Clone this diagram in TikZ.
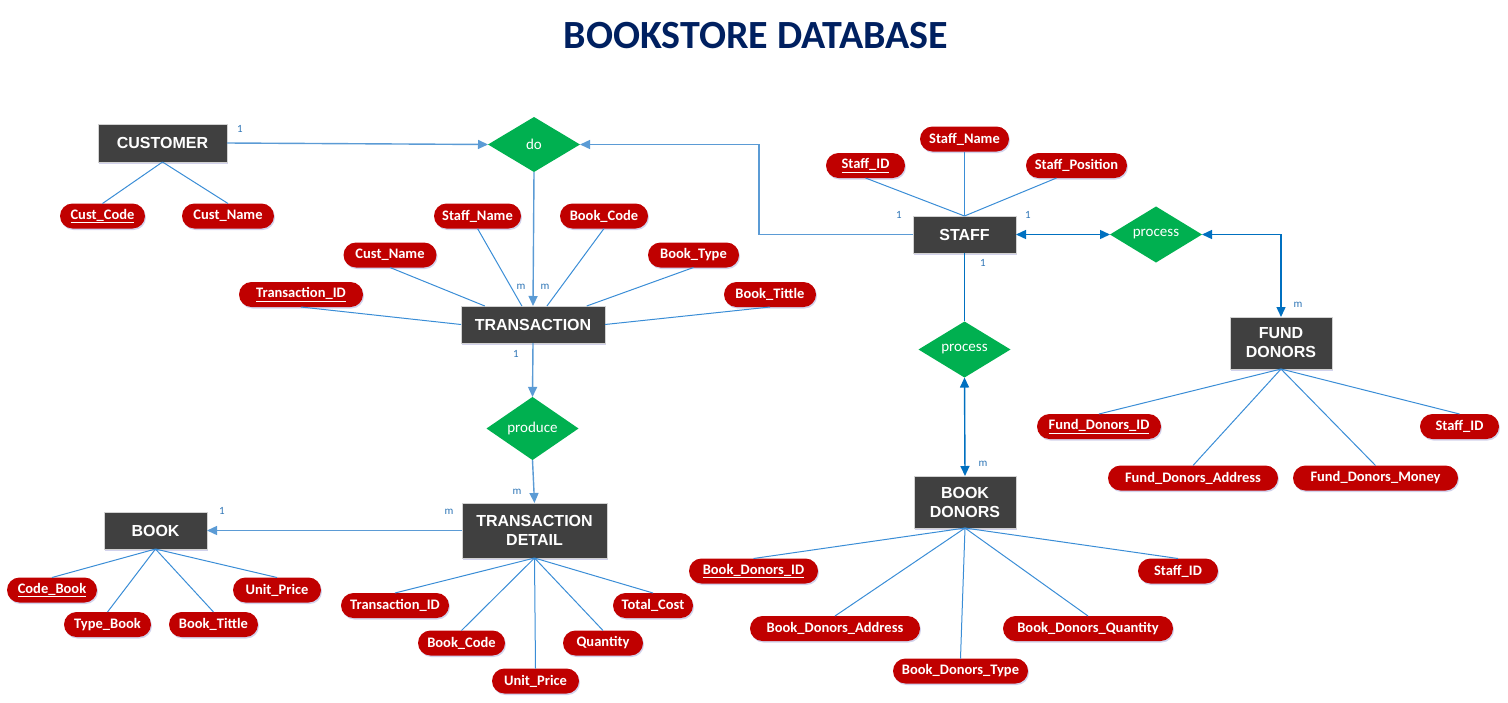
\documentclass[tikz,border=0pt]{standalone}
\usepackage{fontspec}
\setmainfont{Carlito}
\newfontfamily\entfont{Liberation Sans}
\usepackage{tikz}
\usetikzlibrary{shapes.geometric,arrows.meta,shadows}

\definecolor{titleblue}{HTML}{002060}
\definecolor{entgray}{HTML}{404040}
\definecolor{attrred}{HTML}{C00000}
\definecolor{relgreen}{HTML}{00B050}
\definecolor{lineblue}{HTML}{3A8DD6}
\definecolor{linkblue}{HTML}{5B9BD5}
\definecolor{darkblue}{HTML}{0070C0}
\definecolor{cardblue}{HTML}{2E75B6}

\tikzset{
  softshadow/.style={drop shadow={shadow xshift=1pt, shadow yshift=-1.5pt, opacity=0.25, fill=blue!40!gray}},
  entity/.style={fill=entgray, draw=gray!35, line width=0.8pt, text=white,
    font=\entfont\bfseries\fontsize{16}{19}\selectfont, align=center,
    inner sep=0pt, outer sep=0pt, softshadow},
  attr/.style={fill=attrred, text=white, font=\bfseries\fontsize{14.5}{16}\selectfont,
    rounded corners=12.5pt, minimum height=25pt, inner sep=0pt, outer sep=0pt, softshadow},
  rel/.style={diamond, fill=relgreen, text=white, font=\fontsize{15}{17}\selectfont,
    minimum width=92pt, minimum height=55pt, inner sep=0pt, outer sep=0pt},
  attrline/.style={draw=lineblue, line width=1pt},
  link/.style={draw=linkblue, line width=1.4pt},
  dlink/.style={draw=darkblue, line width=1.4pt},
  card/.style={text=cardblue, font=\fontsize{11}{12}\selectfont, inner sep=0pt}
}

\begin{document}
\begin{tikzpicture}[x=1pt, y=-1pt, >={Triangle[length=10pt,width=9pt]}]
\useasboundingbox (0,0) rectangle (1508,702);

% title
\node[text=titleblue, font=\bfseries\fontsize{40}{44}\selectfont] (title) at (756,36) {BOOKSTORE DATABASE};

% entities
\node[entity, minimum width=129pt, minimum height=38pt] (cust) at (162.5,143) {CUSTOMER};
\node[entity, minimum width=144pt, minimum height=37pt] (trans) at (533,324.5) {TRANSACTION};
\node[entity, minimum width=103pt, minimum height=37pt] (staff) at (964.5,234.5) {STAFF};
\node[entity, minimum width=102pt, minimum height=52pt] (fund) at (1281,343) {FUND\\DONORS};
\node[entity, minimum width=102pt, minimum height=52pt] (bdon) at (965,502) {BOOK\\DONORS};
\node[entity, minimum width=145pt, minimum height=55pt] (tdet) at (534.5,530.5) {TRANSACTION\\DETAIL};
\node[entity, minimum width=103pt, minimum height=37pt] (book) at (155.5,530.5) {BOOK};

% relationships
\node[rel] (do) at (534,144.5) {do};
\node[rel] (procf) at (1156,234.5) {process};
\node[rel] (procb) at (964.5,349.5) {process};
\node[rel] (produce) at (532.5,428.5) {produce};

% attributes of customer
\node[attr, minimum width=85pt] (custcode) at (102.5,216) {\underline{Cust\_Code}};
\node[attr, minimum width=92pt] (custname) at (228,216) {Cust\_Name};

% attributes of transaction
\node[attr, minimum width=87pt] (tstaffname) at (477.5,216) {Staff\_Name};
\node[attr, minimum width=88pt] (tbookcode) at (604,216) {Book\_Code};
\node[attr, minimum width=93pt] (tcustname) at (390,255) {Cust\_Name};
\node[attr, minimum width=91pt] (tbooktype) at (693.5,255) {Book\_Type};
\node[attr, minimum width=124pt] (ttransid) at (301,294.5) {\underline{Transaction\_ID}};
\node[attr, minimum width=92pt] (tbooktitle) at (770,294.5) {Book\_Tittle};

% attributes of staff
\node[attr, minimum width=79pt] (staffid) at (865.5,165.5) {\underline{Staff\_ID}};
\node[attr, minimum width=89pt] (staffname) at (964.5,139) {Staff\_Name};
\node[attr, minimum width=101pt] (staffpos) at (1076.5,165.5) {Staff\_Position};

% attributes of fund donors
\node[attr, minimum width=124pt] (fundid) at (1099,426.5) {\underline{Fund\_Donors\_ID}};
\node[attr, minimum width=79pt] (fundstaff) at (1459.5,426.5) {Staff\_ID};
\node[attr, minimum width=170pt] (fundaddr) at (1193,478) {Fund\_Donors\_Address};
\node[attr, minimum width=165pt] (fundmoney) at (1375.5,478) {Fund\_Donors\_Money};

% attributes of book donors
\node[attr, minimum width=129pt] (bdonid) at (753.5,571) {\underline{Book\_Donors\_ID}};
\node[attr, minimum width=80pt] (bdonstaff) at (1178,571) {Staff\_ID};
\node[attr, minimum width=170pt] (bdonaddr) at (835,628.5) {Book\_Donors\_Address};
\node[attr, minimum width=170pt] (bdonqty) at (1088,628.5) {Book\_Donors\_Quantity};
\node[attr, minimum width=135pt] (bdontype) at (960.5,671) {Book\_Donors\_Type};

% attributes of book
\node[attr, minimum width=90pt] (codebook) at (52,590) {\underline{Code\_Book}};
\node[attr, minimum width=88pt] (bookprice) at (277,590) {Unit\_Price};
\node[attr, minimum width=87pt] (typebook) at (107.5,624.5) {Type\_Book};
\node[attr, minimum width=89pt] (booktitle) at (213.5,624.5) {Book\_Tittle};

% attributes of transaction detail
\node[attr, minimum width=108pt] (dtransid) at (395,605.5) {Transaction\_ID};
\node[attr, minimum width=80pt] (dtotal) at (653,605.5) {Total\_Cost};
\node[attr, minimum width=87pt] (dbookcode) at (461.5,643) {Book\_Code};
\node[attr, minimum width=80pt] (dqty) at (603,643) {Quantity};
\node[attr, minimum width=87pt] (dprice) at (535.5,681) {Unit\_Price};

% attribute lines
\draw[attrline] (custcode.north) -- (cust.south);
\draw[attrline] (custname.north) -- (cust.south);
\draw[attrline] (ttransid.south) -- (trans.west);
\draw[attrline] (tcustname.south) -- (trans.159);
\draw[attrline] (tstaffname.south) -- (trans.121);
\draw[attrline] (tbookcode.south) -- (trans.53);
\draw[attrline] (tbooktype.south) -- (trans.19);
\draw[attrline] (tbooktitle.south) -- (trans.east);
\draw[attrline] (staffid.south) -- (staff.north);
\draw[attrline] (staffname.south) -- (staff.north);
\draw[attrline] (staffpos.-148) -- (staff.north);
\draw[attrline] (fundid.north) -- (fund.south);
\draw[attrline] (fundaddr.north) -- (fund.south);
\draw[attrline] (fundmoney.north) -- (fund.south);
\draw[attrline] (fundstaff.north) -- (fund.south);
\draw[attrline] (bdonid.north) -- (bdon.south);
\draw[attrline] (bdonaddr.north) -- (bdon.south);
\draw[attrline] (bdontype.north) -- (bdon.south);
\draw[attrline] (bdonqty.north) -- (bdon.south);
\draw[attrline] (bdonstaff.north) -- (bdon.south);
\draw[attrline] (codebook.north) -- (book.south);
\draw[attrline] (typebook.north) -- (book.south);
\draw[attrline] (booktitle.north) -- (book.south);
\draw[attrline] (bookprice.north) -- (book.south);
\draw[attrline] (dtransid.north) -- (tdet.south);
\draw[attrline] (dbookcode.north) -- (tdet.south);
\draw[attrline] (dprice.north) -- (tdet.south);
\draw[attrline] (dqty.north) -- (tdet.south);
\draw[attrline] (dtotal.north) -- (tdet.south);

% relationship links
\draw[link,->] (cust.east) -- (do.west);
\draw[link,->] (staff.west) -- ++(-154,0) |- (do.east);
\draw[link,->] (do.south) -- (trans.north);
\draw[link,->] (trans.south) -- (produce.north);
\draw[link,->] (produce.south) -- (tdet.north);
\draw[link,->] (tdet.west) -- (book.east);
\draw[dlink,<->] (staff.east) -- (procf.west);
\draw[dlink,<->] (procf.east) -| (fund.north);
\draw[dlink] (staff.south) -- (procb.north);
\draw[dlink,<->] (procb.south) -- (bdon.north);

% cardinalities
\node[card] (c1) at (240,129) {1};
\node[card] (c2) at (521,287) {m};
\node[card] (c3) at (545,287) {m};
\node[card] (c4) at (516,354) {1};
\node[card] (c5) at (517,492) {m};
\node[card] (c6) at (449,512) {m};
\node[card] (c7) at (222,511) {1};
\node[card] (c8) at (899,215) {1};
\node[card] (c9) at (1028,215) {1};
\node[card] (c10) at (983,263) {1};
\node[card] (c11) at (1298,305) {m};
\node[card] (c12) at (983,464) {m};
\end{tikzpicture}
\end{document}
